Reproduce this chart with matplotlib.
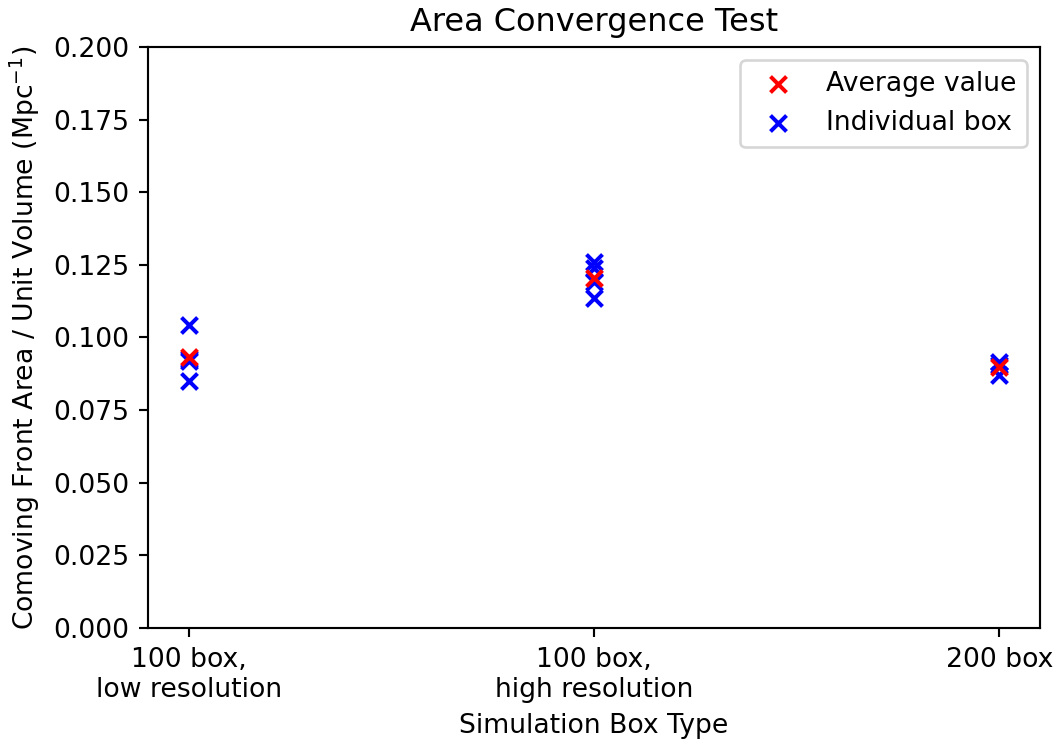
import matplotlib
matplotlib.use("Agg")
import matplotlib.pyplot as plt
import numpy as np

box_types = ["100 box,\nlow resolution", "100 box,\nhigh resolution", "200 box"]
box_pos = [0, 1, 2]

# individual box values
low_res = [0.1043, 0.0925, 0.0918, 0.0849]
high_res = [0.1261, 0.1238, 0.1190, 0.1135]
big_box = [0.0915, 0.0905, 0.0870]
averages = [np.mean(low_res), np.mean(high_res), np.mean(big_box)]

DPI = 192
fig, ax = plt.subplots(figsize=(1059 / DPI, 740 / DPI), dpi=DPI)

ind = None
for pos, vals in zip(box_pos, [low_res, high_res, big_box]):
    ind = ax.scatter([pos] * len(vals), vals, marker="x", color="blue", zorder=2)
avg = ax.scatter(box_pos, averages, marker="x", color="red", zorder=3)

ax.set_ylim(0, 0.2)
ax.set_xticks(box_pos)
ax.set_xticklabels(box_types)
ax.set_xlabel("Simulation Box Type")
ax.set_ylabel("Comoving Front Area / Unit Volume (Mpc$^{-1}$)")
ax.set_title("Area Convergence Test")
ax.legend([avg, ind], ["Average value", "Individual box"], loc="upper right")

plt.subplots_adjust(left=0.1398, right=0.982, top=0.9365, bottom=0.1514)
plt.savefig("out.png", dpi=DPI)
